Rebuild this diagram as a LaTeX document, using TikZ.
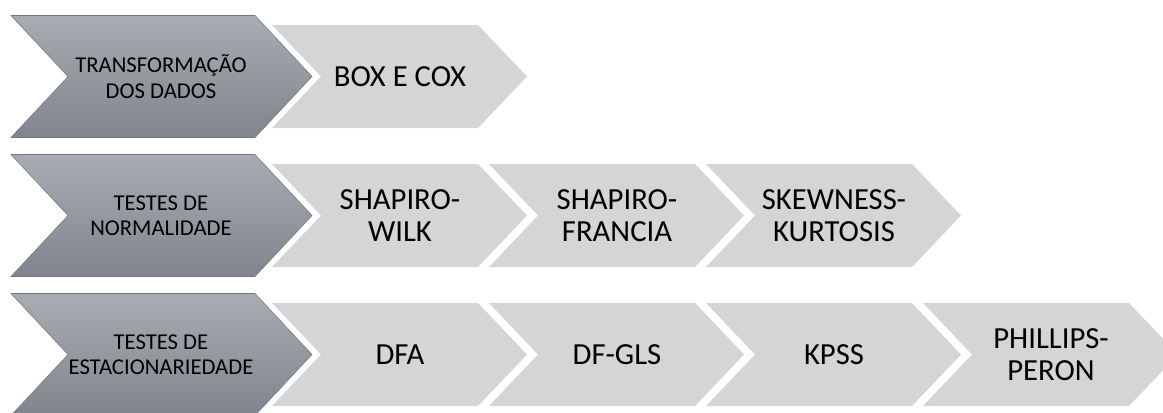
\documentclass[tikz,border=0pt]{standalone}
\usepackage{fontspec}
\setmainfont{Carlito}
\definecolor{darktop}{HTML}{A9ACB2}
\definecolor{darkbot}{HTML}{80848C}
\definecolor{lightfill}{HTML}{D4D5D7}
% chevron: left x, middle y, corner x, half height, point depth
\newcommand{\chev}[6][]{%
  \path[#1] (#2,#3-#5) -- (#4,#3-#5) -- (#4+#6,#3) -- (#4,#3+#5)
    -- (#2,#3+#5) -- (#2+#6,#3) -- cycle;}
\begin{document}
\begin{tikzpicture}[x=0.75pt,y=-0.75pt,
  darkchev/.style={top color=darktop,bottom color=darkbot,draw=darkbot!90!black,line width=0.4pt},
  lightchev/.style={fill=lightfill},
  headtext/.style={align=center,font=\fontsize{17}{19}\selectfont},
  itemtext/.style={align=center,font=\fontsize{23}{24}\selectfont}]
\useasboundingbox (0,0) rectangle (1163,412);

% row 1
\chev[darkchev]{11}{76.5}{255}{61}{57}
\chev[lightchev]{272}{76.5}{478}{51.5}{49}
\node[headtext] (trans) at (161,76.5) {TRANSFORMAÇÃO\\DOS DADOS};
\node[itemtext] (boxcox) at (400,76.5) {BOX E COX};

% row 2
\chev[darkchev]{11}{215.5}{255}{61}{57}
\chev[lightchev]{272}{215.5}{478}{51.5}{49}
\chev[lightchev]{489}{215.5}{695}{51.5}{49}
\chev[lightchev]{706}{215.5}{912}{51.5}{49}
\node[headtext] (normal) at (161,215.5) {TESTES DE\\NORMALIDADE};
\node[itemtext] (sw) at (400,215.5) {SHAPIRO-\\WILK};
\node[itemtext] (sf) at (617,215.5) {SHAPIRO-\\FRANCIA};
\node[itemtext] (sk) at (834,215.5) {SKEWNESS-\\KURTOSIS};

% row 3
\chev[darkchev]{11}{354.5}{255}{61}{57}
\chev[lightchev]{272}{354.5}{478}{51.5}{49}
\chev[lightchev]{489}{354.5}{695}{51.5}{49}
\chev[lightchev]{706}{354.5}{912}{51.5}{49}
\chev[lightchev]{923}{354.5}{1129}{51.5}{49}
\node[headtext] (estac) at (161,354.5) {TESTES DE\\ESTACIONARIEDADE};
\node[itemtext] (dfa) at (400,354.5) {DFA};
\node[itemtext] (dfgls) at (617,354.5) {DF-GLS};
\node[itemtext] (kpss) at (834,354.5) {KPSS};
\node[itemtext] (pp) at (1051,354.5) {PHILLIPS-\\PERON};
\end{tikzpicture}
\end{document}
